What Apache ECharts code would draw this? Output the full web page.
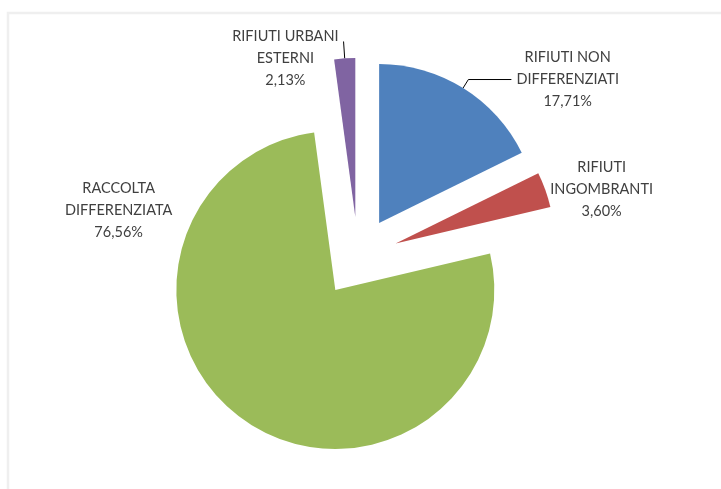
<!DOCTYPE html>
<html>
<head>
<meta charset="utf-8">
<script src="https://cdn.jsdelivr.net/npm/echarts@6/dist/echarts.min.js"></script>
<style>
  html, body { margin: 0; padding: 0; background: #ffffff; }
  #chart { width: 721px; height: 489px; }
</style>
</head>
<body>
<div id="chart"></div>
<script>
// Waste collection breakdown (percent)
const categories = [
  'RIFIUTI NON\nDIFFERENZIATI',
  'RIFIUTI\nINGOMBRANTI',
  'RACCOLTA\nDIFFERENZIATA',
  'RIFIUTI URBANI\nESTERNI'
];
const values = [17.71, 3.60, 76.56, 2.13];
const colors = ['#4F81BD', '#C0504D', '#9BBB59', '#8064A2'];

// Per-slice leader line lengths / label padding (label placement)
const labelTweaks = [
  { len: 10, len2: 43, line: true, pad: [0, 0, 0, 0] },
  { len: 0, len2: 0, line: false, pad: [0, 0, 0, 0] },
  { len: -256, len2: 213, line: false, pad: [0, 0, 0, 0] },
  { len: 17, len2: 0, line: true, pad: [34, 0, 0, 0] }
];

function fmtPct(v) {
  return v.toFixed(2).replace('.', ',') + '%';
}

const chart = echarts.init(document.getElementById('chart'), null, { renderer: 'canvas' });

chart.setOption({
  animation: false,
  backgroundColor: '#ffffff',
  graphic: [{
    type: 'rect',
    shape: { x: 8, y: 13, width: 760, height: 520 },
    style: { fill: 'none', stroke: '#efefef', lineWidth: 2.5 },
    silent: true
  }],
  series: [{
    type: 'pie',
    center: [358, 257],
    radius: [0, 159],
    startAngle: 90,
    clockwise: true,
    selectedMode: 'multiple',
    selectedOffset: 40,
    avoidLabelOverlap: false,
    emphasis: { disabled: true },
    itemStyle: { borderWidth: 0 },
    label: {
      show: true,
      position: 'outside',
      distanceToLabelLine: 5,
      formatter: p => (p.name + '\n' + fmtPct(p.value))
        .split('\n').map(s => '{t|' + s + '}').join('\n'),
      rich: {
        t: {
          fontFamily: 'Lato, sans-serif',
          fontSize: 14.5,
          lineHeight: 22,
          color: '#404040',
          align: 'center'
        }
      }
    },
    labelLine: {
      show: true,
      smooth: false,
      minTurnAngle: 0,
      lineStyle: { color: '#000000', width: 1 }
    },
    data: categories.map((name, i) => ({
      name: name,
      value: values[i],
      selected: true,
      itemStyle: { color: colors[i] },
      label: { padding: labelTweaks[i].pad },
      labelLine: {
        show: labelTweaks[i].line,
        length: labelTweaks[i].len,
        length2: labelTweaks[i].len2
      }
    }))
  }]
});
</script>
</body>
</html>
